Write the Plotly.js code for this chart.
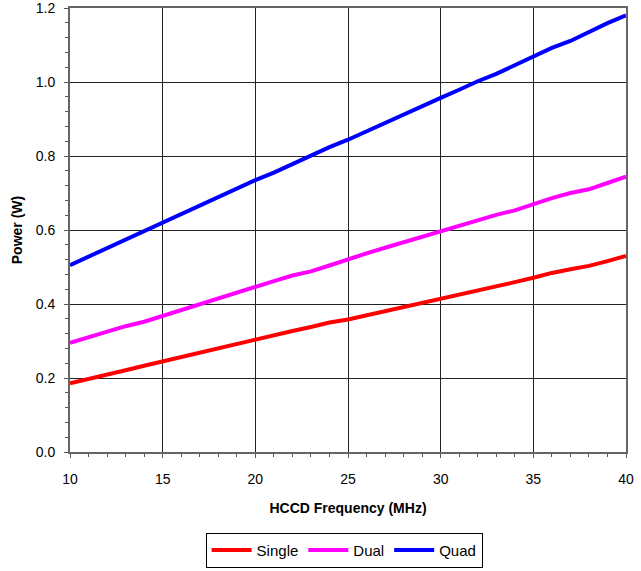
<!DOCTYPE html>
<html>
<head>
<meta charset="utf-8">
<script src="https://cdn.plot.ly/plotly-3.0.1.min.js"></script>
<style>html,body{margin:0;padding:0;background:#fff;}#chart{width:641px;height:571px;}</style>
</head>
<body>
<div id="chart"></div>
<script>
const freq = [10,11,12,13,14,15,16,17,18,19,20,21,22,23,24,25,26,27,28,29,30,31,32,33,34,35,36,37,38,39,40];
const single = [0.186,0.197,0.209,0.221,0.233,0.245,0.257,0.269,0.281,0.292,0.304,0.316,0.327,0.338,0.350,0.358,0.369,0.381,0.392,0.404,0.414,0.426,0.437,0.448,0.459,0.471,0.484,0.494,0.503,0.516,0.530];
const dual = [0.295,0.310,0.324,0.340,0.352,0.368,0.384,0.400,0.416,0.431,0.447,0.462,0.477,0.488,0.504,0.521,0.537,0.552,0.567,0.580,0.597,0.612,0.627,0.641,0.653,0.670,0.686,0.700,0.710,0.727,0.744];
const quad = [0.505,0.528,0.551,0.574,0.597,0.619,0.642,0.665,0.688,0.711,0.735,0.755,0.778,0.801,0.824,0.844,0.867,0.890,0.913,0.935,0.957,0.979,1.002,1.022,1.045,1.069,1.092,1.111,1.135,1.159,1.180];
const seriesNames = ['Single','Dual','Quad'];
const colors = ['#FF0000','#FF00FF','#0000FF'];
const xTicks = [10,15,20,25,30,35,40];
const yTicks = [0,0.2,0.4,0.6,0.8,1.0,1.2];
const yTickText = ['0.0','0.2','0.4','0.6','0.8','1.0','1.2'];
const xTitle = 'HCCD Frequency (MHz)';
const yTitle = 'Power (W)';

const traces = [single, dual, quad].map((v, i) => ({
  x: freq, y: v, type: 'scatter', mode: 'lines', name: seriesNames[i],
  line: {color: colors[i], width: 4}
}));

const font = {family: 'Liberation Sans, Arial, Helvetica, sans-serif', size: 14, color: '#000'};
const legFont = {family: 'Liberation Sans, Arial, Helvetica, sans-serif', size: 15, color: '#000'};
const layout = {
  width: 641, height: 571,
  margin: {l: 70, r: 15, t: 8, b: 119},
  paper_bgcolor: '#fff', plot_bgcolor: '#fff',
  font: font,
  showlegend: true,
  legend: {
    orientation: 'h', x: 0.493, xanchor: 'center',
    yref: 'container', y: 0.067, yanchor: 'top',
    bordercolor: '#000', borderwidth: 1, bgcolor: '#fff',
    font: legFont, itemwidth: 40, tracegroupgap: 0
  },
  xaxis: {
    range: [10, 40], tickvals: xTicks, automargin: false,
    showgrid: true, gridcolor: '#222', gridwidth: 1,
    showline: true, linecolor: '#666', linewidth: 2, mirror: true,
    ticks: 'outside', ticklen: 4, tickcolor: '#555', tickwidth: 1,
    ticklabelstandoff: 9, ticklabeloverflow: 'allow',
    minor: {dtick: 1, ticks: 'outside', ticklen: 3, tickcolor: '#555', showgrid: false},
    zeroline: false,
    tickfont: font,
    title: {text: '<b>' + xTitle + '</b>', font: font, standoff: 17}
  },
  yaxis: {
    range: [0, 1.2], tickvals: yTicks, ticktext: yTickText, automargin: false,
    showgrid: true, gridcolor: '#222', gridwidth: 1,
    showline: true, linecolor: '#666', linewidth: 2, mirror: true,
    ticks: 'outside', ticklen: 4, tickcolor: '#555', tickwidth: 1,
    ticklabelstandoff: 6, ticklabeloverflow: 'allow',
    minor: {dtick: 0.04, ticks: 'outside', ticklen: 3, tickcolor: '#555', showgrid: false},
    zeroline: false,
    tickfont: font,
    title: {text: '<b>' + yTitle + '</b>', font: font, standoff: 10}
  }
};
Plotly.newPlot('chart', traces, layout, {displayModeBar: false, staticPlot: true});
</script>
</body>
</html>
